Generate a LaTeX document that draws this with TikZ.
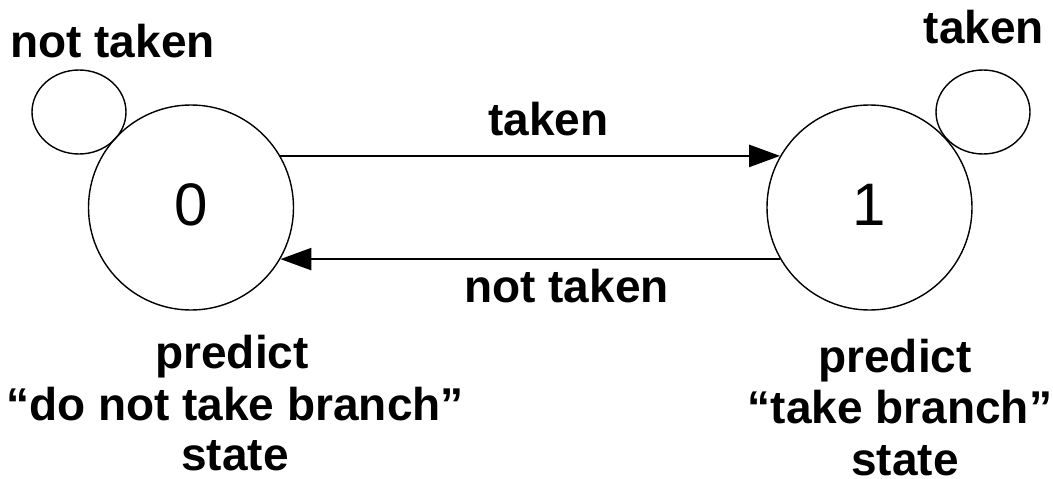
\documentclass[tikz,border=0pt]{standalone}
\usepackage{fontspec}
\setmainfont{Liberation Sans}
\usetikzlibrary{arrows.meta,shapes.geometric}
\begin{document}
\begin{tikzpicture}[x=1pt,y=-1pt,
  state/.style={circle,draw,line width=1.4pt,minimum size=205pt,inner sep=0pt,
    font=\fontsize{60}{72}\selectfont},
  loopring/.style={ellipse,draw,line width=1.4pt,minimum width=94pt,minimum height=84pt,inner sep=0pt},
  trans/.style={line width=2.4pt,-{Triangle[length=31pt,width=22pt]}},
  lbl/.style={font=\bfseries\fontsize{46}{51.5}\selectfont,inner sep=0pt,anchor=base}
]
\useasboundingbox (0,0) rectangle (1053,479);

% two prediction states
\node[state] (s0) at (191,207.5) {\raisebox{5pt}{0}};
\node[state] (s1) at (869.5,207.5) {\raisebox{6pt}{1}};

% self-transitions
\node[loopring] (l0) at (79,112) {};
\node[loopring] (l1) at (983,112) {};

% transitions between the states
\draw[trans] (s0.30) -- (s1.150);
\draw[trans] (s1.210) -- (s0.-30);

% transition labels
\node[lbl] (t0) at (112.5,57) {not taken};
\node[lbl] (t1) at (984,43) {taken};
\node[lbl] (t01) at (548.5,135) {taken};
\node[lbl] (t10) at (566.5,302) {not taken};

% state descriptions
\node[lbl] (d0a) at (232,368) {predict};
\node[lbl] (d0b) at (235,420) {“do not take branch”};
\node[lbl] (d0c) at (235,470) {state};
\node[lbl] (d1a) at (895,372) {predict};
\node[lbl] (d1b) at (900,423) {“take branch”};
\node[lbl] (d1c) at (905,475) {state};
\end{tikzpicture}
\end{document}
